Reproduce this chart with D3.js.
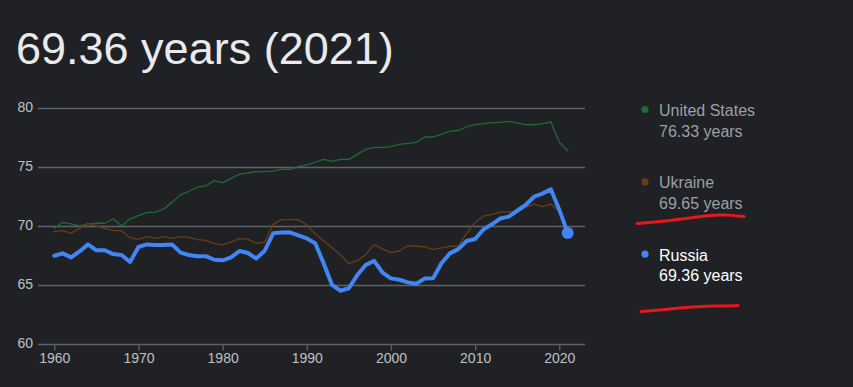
<!DOCTYPE html>
<html>
<head>
<meta charset="utf-8">
<script src="https://cdn.jsdelivr.net/npm/d3@7"></script>
<style>
  html, body { margin: 0; padding: 0; background: #202124; }
  svg { display: block; font-family: Arial, "Liberation Sans", sans-serif; }
</style>
</head>
<body>
<svg width="853" height="387"></svg>
<script>
// life expectancy, years 1960..2021
var years = d3.range(1960, 2022);
var usValues = [69.76, 70.27, 70.13, 69.96, 70.13, 70.19, 70.19, 70.57, 69.96, 70.57,
    70.83, 71.1, 71.13, 71.4, 71.96, 72.6, 72.9, 73.26, 73.35, 73.8,
    73.63, 74.0, 74.36, 74.45, 74.56, 74.56, 74.6, 74.76, 74.76, 74.98,
    75.13, 75.36, 75.6, 75.44, 75.6, 75.6, 76.03, 76.45, 76.62, 76.62,
    76.68, 76.88, 76.96, 77.05, 77.5, 77.5, 77.73, 78.0, 78.05, 78.37,
    78.54, 78.63, 78.71, 78.74, 78.83, 78.7, 78.54, 78.54, 78.64, 78.77,
    77.05, 76.33];
var ukraineValues = [69.48, 69.56, 69.34, 69.76, 70.19, 69.96, 69.76, 69.56, 69.56, 68.97,
    68.83, 69.05, 68.9, 69.05, 68.9, 69.05, 69.0, 68.8, 68.74, 68.49,
    68.35, 68.6, 68.88, 68.85, 68.49, 68.6, 70.1, 70.5, 70.5, 70.5,
    70.04, 69.28, 68.7, 68.12, 67.53, 66.76, 67.02, 67.53, 68.38, 68.0,
    67.7, 67.84, 68.29, 68.24, 68.2, 67.98, 68.1, 68.24, 68.26, 69.34,
    70.27, 70.8, 70.95, 71.14, 71.16, 71.16, 71.54, 71.82, 71.6, 71.82,
    71.19, 69.65];
var russiaValues = [67.44, 67.64, 67.3, 67.8, 68.4, 67.9, 67.9, 67.58, 67.5, 66.9,
    68.18, 68.4, 68.35, 68.35, 68.4, 67.7, 67.5, 67.4, 67.4, 67.1,
    67.05, 67.3, 67.84, 67.67, 67.2, 67.86, 69.34, 69.4, 69.42, 69.17,
    68.9, 68.5, 66.8, 64.96, 64.47, 64.68, 65.8, 66.65, 67.0, 66.0,
    65.52, 65.4, 65.18, 65.07, 65.5, 65.52, 66.8, 67.64, 68.0, 68.69,
    68.86, 69.67, 70.1, 70.6, 70.75, 71.25, 71.74, 72.44, 72.7, 73.07,
    71.34, 69.36];

var yTicks = [60, 65, 70, 75, 80];
var xTicks = [1960, 1970, 1980, 1990, 2000, 2010, 2020];

var seriesNames = ['United States', 'Ukraine', 'Russia'];
var seriesColors = ['#1f6b35', '#6b3d14', '#4285f4'];
var latestLabels = ['76.33 years', '69.65 years', '69.36 years'];
var titleText = '69.36 years (2021)';

var series = [usValues, ukraineValues, russiaValues].map(function(vals, i) {
    return {
        name: seriesNames[i],
        color: seriesColors[i],
        label: latestLabels[i],
        points: vals.map(function(v, j) { return {year: years[j], value: v}; })
    };
});

var svg = d3.select('svg');

var xScale = d3.scaleLinear().domain([1960, 2020]).range([54.3, 559.3]);
var yScale = d3.scaleLinear().domain([60, 80]).range([343.5, 107.5]);

// title
svg.append('text')
    .attr('x', 16)
    .attr('y', 64)
    .attr('fill', '#e8eaed')
    .style('font-size', '45px')
    .text(titleText);

// grid lines
svg.append('g')
    .selectAll('line')
    .data(yTicks)
    .join('line')
    .attr('x1', 38)
    .attr('x2', 585)
    .attr('y1', function(d) { return Math.round(yScale(d)) + 0.5; })
    .attr('y2', function(d) { return Math.round(yScale(d)) + 0.5; })
    .attr('stroke', '#5f6368')
    .attr('stroke-width', 1.3);

// y labels
svg.append('g')
    .selectAll('text')
    .data(yTicks)
    .join('text')
    .attr('x', 33)
    .attr('y', function(d) { return yScale(d); })
    .attr('dy', '0.35em')
    .attr('text-anchor', 'end')
    .attr('fill', '#bdc1c6')
    .style('font-size', '14px')
    .text(function(d) { return d; });

// x axis
var xAxis = d3.axisBottom(xScale)
    .tickValues(xTicks)
    .tickFormat(d3.format('d'))
    .tickSize(6)
    .tickSizeOuter(0);

var xAxisG = svg.append('g')
    .attr('transform', 'translate(0,' + (Math.round(yScale(60)) + 0.5) + ')')
    .call(xAxis);
xAxisG.select('.domain').remove();
xAxisG.selectAll('line').attr('stroke', '#5f6368').attr('stroke-width', 1.3);
xAxisG.selectAll('text')
    .attr('fill', '#bdc1c6')
    .attr('y', 9)
    .style('font-size', '14px')
    .style('font-family', 'Arial, "Liberation Sans", sans-serif');

// lines
var line = d3.line()
    .x(function(d) { return xScale(d.year); })
    .y(function(d) { return yScale(d.value); });

svg.append('g')
    .selectAll('path')
    .data(series)
    .join('path')
    .attr('d', function(d) { return line(d.points); })
    .attr('fill', 'none')
    .attr('stroke', function(d) { return d.color; })
    .attr('stroke-width', function(d, i) { return i === 2 ? 4 : 1.3; })
    .attr('stroke-linejoin', 'round')
    .attr('stroke-linecap', 'round');

// end dot for Russia
var lastRu = series[2].points[series[2].points.length - 1];
svg.append('circle')
    .attr('cx', xScale(lastRu.year))
    .attr('cy', yScale(lastRu.value))
    .attr('r', 6)
    .attr('fill', '#4285f4');

// legend
var legend = svg.append('g')
    .selectAll('g')
    .data(series)
    .join('g')
    .attr('transform', function(d, i) { return 'translate(645,' + (109.5 + i * 72.3) + ')'; });

legend.append('circle')
    .attr('r', 3.6)
    .attr('fill', function(d) { return d.color; });

legend.append('text')
    .attr('x', 14)
    .attr('y', 6.5)
    .attr('fill', function(d, i) { return i === 2 ? '#ffffff' : '#9aa0a6'; })
    .style('font-size', '16px')
    .text(function(d) { return d.name; });

legend.append('text')
    .attr('x', 14)
    .attr('y', 27)
    .attr('fill', function(d, i) { return i === 2 ? '#ffffff' : '#9aa0a6'; })
    .style('font-size', '16px')
    .text(function(d) { return d.label; });

// red hand-drawn underlines
var scribbles = [
    [[637, 223.5], [660, 221.5], [685, 219], [705, 215.5], [725, 214.5], [744, 216.5]],
    [[641, 311.5], [665, 309.5], [690, 307], [712, 305.8], [738, 305.6]]
];
svg.append('g')
    .selectAll('path')
    .data(scribbles)
    .join('path')
    .attr('d', d3.line().curve(d3.curveBasis))
    .attr('fill', 'none')
    .attr('stroke', '#e3191b')
    .attr('stroke-width', 3)
    .attr('stroke-linecap', 'round');
</script>
</body>
</html>
